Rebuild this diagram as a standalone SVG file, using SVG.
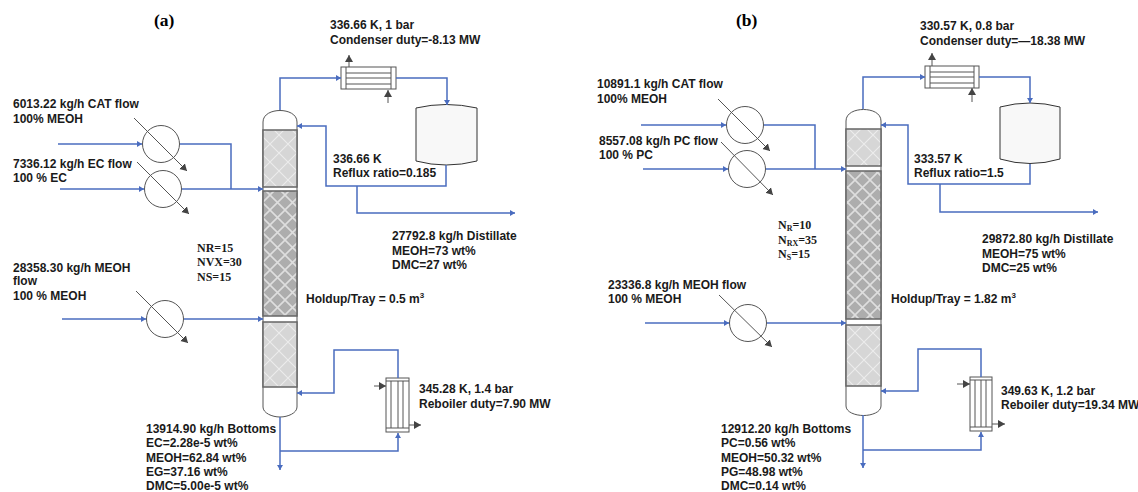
<svg xmlns="http://www.w3.org/2000/svg" width="1138" height="492" viewBox="0 0 1138 492">
<style>
text{font-family:"Liberation Sans",Arial,sans-serif;font-weight:bold;font-size:12px;fill:#1a1a1a}
text.s{font-family:"Liberation Serif","Times New Roman",serif;font-size:12px}
text.t{font-family:"Liberation Serif","Times New Roman",serif;font-size:17.500px;fill:#000}
.b{fill:none;stroke:#4a6cbf;stroke-width:1.5}
.a{marker-end:url(#mb)}
.g{fill:none;stroke:#555;stroke-width:1;marker-end:url(#mg)}
.v{fill:#fff;stroke:#555;stroke-width:1}
.hx{fill:#fff;stroke:#555;stroke-width:1}
.hl{fill:none;stroke:#555;stroke-width:1}
.lt{fill:url(#pl);stroke:#666;stroke-width:1.5}
.dk{fill:url(#pd);stroke:#666;stroke-width:1.5}
.dr{fill:#f8f8f8;stroke:#333;stroke-width:1}
</style>
<defs>
<marker id="mb" markerUnits="userSpaceOnUse" markerWidth="7" markerHeight="8" refX="5" refY="4" orient="auto"><path d="M0 1L5 4L0 7z" fill="#4a6cbf"/></marker>
<marker id="mg" markerUnits="userSpaceOnUse" markerWidth="9" markerHeight="9" refX="7" refY="4.500" orient="auto"><path d="M0 0.500L7 4.500L0 8.500z" fill="#444"/></marker>
<pattern id="pl" width="18" height="18" patternUnits="userSpaceOnUse"><rect width="18" height="18" fill="#d6d6d6"/><path d="M0 0L18 18M18 0L0 18" stroke="#ececec" stroke-width="1.1"/></pattern>
<pattern id="pd" width="15" height="15" patternUnits="userSpaceOnUse"><rect width="15" height="15" fill="#adadad"/><path d="M0 0L15 15M15 0L0 15" stroke="#dedede" stroke-width="1.6"/></pattern>
</defs>

<g id="column-a">
<path class="v" d="M263 130V122C263 114 272 110.500 280 110.500C288 110.500 297 114 297 122V130"/>
<path class="v" d="M263 387V407C263 413 272 417 280 417C288 417 297 413 297 407V387"/>
<path class="v" d="M263 130V387M297 130V387"/>
<rect class="lt" x="263" y="130" width="34" height="57"/>
<rect class="dk" x="263" y="191" width="34" height="125"/>
<rect class="lt" x="263" y="322" width="34" height="65"/>
</g>
<g id="column-b">
<path class="v" d="M846 129V121C846 113 855 109.500 863.500 109.500C872 109.500 881 113 881 121V129"/>
<path class="v" d="M846 386V406C846 412 855 415.500 863.500 415.500C872 415.500 881 412 881 406V386"/>
<path class="v" d="M846 129V386M881 129V386"/>
<rect class="lt" x="846" y="129" width="35" height="37"/>
<rect class="dk" x="846" y="171" width="35" height="148"/>
<rect class="lt" x="846" y="325" width="35" height="61"/>
</g>

<g id="condenser-a">
<rect class="hx" x="341" y="67" width="55" height="22"/>
<path class="hl" d="M346 67V89M391 67V89M346 73H391M346 78H391M346 84H391"/>
</g>
<g id="condenser-b">
<rect class="hx" x="925" y="66" width="54" height="22"/>
<path class="hl" d="M930 66V88M974 66V88M930 72H974M930 77H974M930 83H974"/>
</g>
<g id="drum-a"><path class="dr" d="M416 108Q446 101 477 108V161Q446 169 416 161z"/></g>
<g id="drum-b"><path class="dr" d="M1000 107Q1030 99 1060 107V159Q1030 168 1000 159z"/></g>
<g id="reboiler-a">
<rect class="hx" x="386" y="378" width="23" height="54"/>
<path class="hl" d="M386 381H409M386 428H409M391 381V428M398 381V428M403 381V428"/>
</g>
<g id="reboiler-b">
<rect class="hx" x="970" y="377" width="22" height="54"/>
<path class="hl" d="M970 380H992M970 427H992M975 380V427M981 380V427M986 380V427"/>
</g>
<g id="hx-a1"><circle class="hx" cx="161" cy="144" r="18.500"/></g>
<g id="hx-a2"><circle class="hx" cx="163" cy="189" r="18.500"/></g>
<g id="hx-a3"><circle class="hx" cx="165" cy="319" r="18.500"/></g>
<g id="hx-b1"><circle class="hx" cx="745" cy="125" r="18.500"/></g>
<g id="hx-b2"><circle class="hx" cx="747" cy="169" r="18.500"/></g>
<g id="hx-b3"><circle class="hx" cx="748" cy="323" r="18.500"/></g>

<g id="connectors">
<path class="b a" d="M280 110V78H341"/>
<path class="b a" d="M396 78H447V105"/>
<path class="b a" d="M446 165V186H326V126H297"/>
<path class="b a" d="M357 186V213H515"/>
<path class="b a" d="M58 144H142"/>
<path class="b" d="M180 144H231V189"/>
<path class="b a" d="M60 189H144"/>
<path class="b a" d="M182 189H263"/>
<path class="b a" d="M62 319H146"/>
<path class="b a" d="M184 319H263"/>
<path class="b a" d="M398 378V350H334V393H297"/>
<path class="b a" d="M280 417V470"/>
<path class="b a" d="M280 451H398V433"/>
<path class="b a" d="M863 109V77H925"/>
<path class="b a" d="M979 77H1030V103"/>
<path class="b a" d="M1030 164V184H908V125H881"/>
<path class="b a" d="M940 184V212H1098"/>
<path class="b a" d="M641 125H726"/>
<path class="b" d="M764 125H815V169"/>
<path class="b a" d="M643 169H728"/>
<path class="b a" d="M766 169H846"/>
<path class="b a" d="M645 323H729"/>
<path class="b a" d="M767 323H846"/>
<path class="b a" d="M981 377V349H918V391H881"/>
<path class="b a" d="M863 415V468"/>
<path class="b a" d="M863 450H981V432"/>
<path class="g" d="M349 67V55"/>
<path class="g" d="M388 103V90"/>
<path class="g" d="M932 66V53"/>
<path class="g" d="M972 102V88"/>
<path class="g" d="M134 118L187 171"/>
<path class="g" d="M137 162L189 214"/>
<path class="g" d="M136 291L188 343"/>
<path class="g" d="M718 99L770 151"/>
<path class="g" d="M721 142L773 195"/>
<path class="g" d="M719 295L772 347"/>
<path class="g" d="M374 386H386"/>
<path class="g" d="M409 425H421"/>
<path class="g" d="M957 384H970"/>
<path class="g" d="M992 424H1005"/>
</g>

<g id="labels">
<text class="t" x="154" y="26">(a)</text>
<text class="t" x="736" y="26">(b)</text>
<text x="330" y="29">336.66 K, 1 bar</text>
<text x="330" y="44">Condenser duty=-8.13 MW</text>
<text x="333" y="163">336.66 K</text>
<text x="333" y="177">Reflux ratio=0.185</text>
<text x="13" y="108">6013.22 kg/h CAT flow</text>
<text x="13" y="123">100% MEOH</text>
<text x="13" y="168">7336.12 kg/h EC flow</text>
<text x="13" y="182">100 % EC</text>
<text x="13" y="272">28358.30 kg/h MEOH</text>
<text x="13" y="285">flow</text>
<text x="13" y="300">100 % MEOH</text>
<text class="s" x="197" y="252">NR=15</text>
<text class="s" x="197" y="266">NVX=30</text>
<text class="s" x="197" y="281">NS=15</text>
<text x="392" y="240">27792.8 kg/h Distillate</text>
<text x="392" y="255">MEOH=73 wt%</text>
<text x="392" y="269">DMC=27 wt%</text>
<text x="306" y="303">Holdup/Tray = 0.5 m<tspan font-size="8" dy="-5">3</tspan></text>
<text x="419" y="393">345.28 K, 1.4 bar</text>
<text x="419" y="408">Reboiler duty=7.90 MW</text>
<text x="146" y="433">13914.90 kg/h Bottoms</text>
<text x="146" y="447">EC=2.28e-5 wt%</text>
<text x="146" y="462">MEOH=62.84 wt%</text>
<text x="146" y="476">EG=37.16 wt%</text>
<text x="146" y="490">DMC=5.00e-5 wt%</text>
<text x="920" y="30">330.57 K, 0.8 bar</text>
<text x="920" y="45">Condenser duty=—18.38 MW</text>
<text x="914" y="163">333.57 K</text>
<text x="914" y="177">Reflux ratio=1.5</text>
<text x="597" y="88">10891.1 kg/h CAT flow</text>
<text x="597" y="103">100% MEOH</text>
<text x="599" y="145">8557.08 kg/h PC flow</text>
<text x="599" y="159">100 % PC</text>
<text x="608" y="289">23336.8 kg/h MEOH flow</text>
<text x="608" y="303">100 % MEOH</text>
<text class="s" x="778" y="229">N<tspan font-size="8" dy="2">R</tspan><tspan dy="-2">=10</tspan></text>
<text class="s" x="778" y="244">N<tspan font-size="8" dy="2">RX</tspan><tspan dy="-2">=35</tspan></text>
<text class="s" x="778" y="258">N<tspan font-size="8" dy="2">S</tspan><tspan dy="-2">=15</tspan></text>
<text x="982" y="243">29872.80 kg/h Distillate</text>
<text x="982" y="258">MEOH=75 wt%</text>
<text x="982" y="272">DMC=25 wt%</text>
<text x="891" y="303">Holdup/Tray = 1.82 m<tspan font-size="8" dy="-5">3</tspan></text>
<text x="1001" y="395">349.63 K, 1.2 bar</text>
<text x="1001" y="409">Reboiler duty=19.34 MW</text>
<text x="721" y="433">12912.20 kg/h Bottoms</text>
<text x="721" y="447">PC=0.56 wt%</text>
<text x="721" y="462">MEOH=50.32 wt%</text>
<text x="721" y="476">PG=48.98 wt%</text>
<text x="721" y="490">DMC=0.14 wt%</text>
</g>
</svg>
